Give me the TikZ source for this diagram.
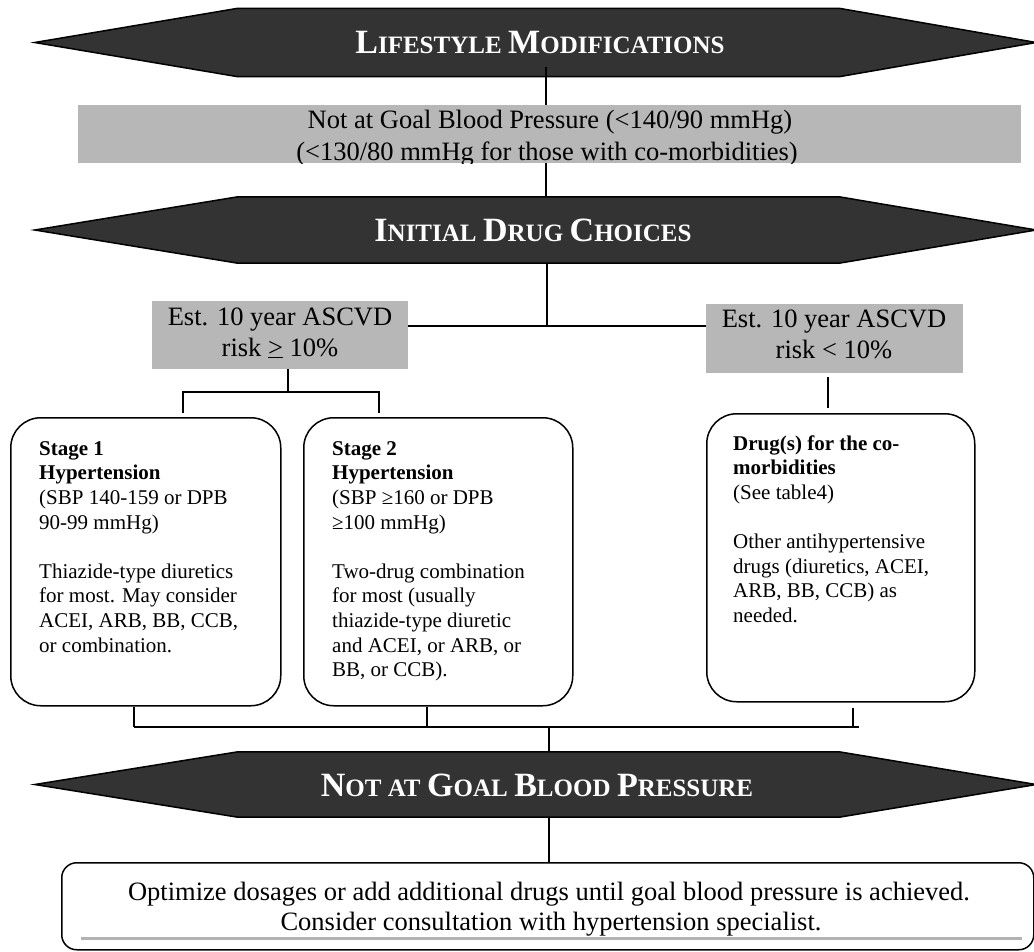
\documentclass[tikz,border=0pt]{standalone}
\usepackage{fontspec}
\setmainfont{Liberation Serif}
\usetikzlibrary{calc}
\definecolor{bannerfill}{RGB}{51,51,51}
\definecolor{boxgray}{RGB}{183,183,183}
\definecolor{linegray}{RGB}{178,178,178}
\newcommand\bigsc[2]{{\fontsize{34}{40}\selectfont #1}{\fontsize{25}{30}\selectfont #2}}
\begin{document}
\begin{tikzpicture}[x=1pt,y=-1pt,
  conn/.style={line width=1.3pt},
  busline/.style={line width=2pt},
  bannershape/.style={draw=black,line width=1.5pt,fill=bannerfill},
  bannerbox/.style={inner sep=0pt,minimum width=1001pt},
  bannertext/.style={text=white,font=\bfseries\fontsize{26}{30}\selectfont,inner sep=0pt,anchor=base},
  graybox/.style={fill=boxgray,draw=none,inner sep=0pt,anchor=north west},
  gtext/.style={font=\fontsize{26.5}{31}\selectfont,inner sep=0pt,anchor=base},
  stagebox/.style={draw,line width=1.5pt,rounded corners=30pt,inner sep=0pt,anchor=north west},
  stext/.style={font=\fontsize{21}{24.6}\selectfont,align=left,anchor=north west,inner sep=0pt},
  finalbox/.style={draw,line width=1.5pt,rounded corners=15pt,inner sep=0pt,anchor=north west},
]
\useasboundingbox (0,0) rectangle (1034,951);
\clip (0,0) rectangle (1034,951);

% ---------- banners ----------
\node[bannerbox,minimum height=68pt] (b1) at (535.5,42.5) {};
\node[bannerbox,minimum height=66pt] (b2) at (535.5,230) {};
\node[bannerbox,minimum height=65pt] (b3) at (535.5,784.5) {};
\foreach \b in {b1,b2,b3}{
  \draw[bannershape] (\b.west) -- ($(\b.north west)+(203,0)$) -- ($(\b.north east)+(-197,0)$)
    -- (\b.east) -- ($(\b.south east)+(-197,0)$) -- ($(\b.south west)+(203,0)$) -- cycle;
}
\node[bannertext] (b1t) at (540,53) {\bigsc{L}{IFESTYLE} \bigsc{M}{ODIFICATIONS}};
\node[bannertext] (b2t) at (533,241) {\bigsc{I}{NITIAL} \bigsc{D}{RUG} \bigsc{C}{HOICES}};
\node[bannertext] (b3t) at (537,796) {\bigsc{N}{OT AT} \bigsc{G}{OAL} \bigsc{B}{LOOD} \bigsc{P}{RESSURE}};

% ---------- first gray box ----------
\node[graybox,minimum width=943pt,minimum height=58pt] (g1) at (78,105) {};
\begin{scope}
  \clip (g1.north west) rectangle (g1.south east);
  \node[gtext] (g1a) at (550,128) {Not at Goal Blood Pressure (<140/90 mmHg)};
  \node[gtext] (g1b) at (547,160) {(<130/80 mmHg for those with co-morbidities)};
\end{scope}

% ---------- risk boxes ----------
\node[graybox,minimum width=256pt,minimum height=68pt] (lg) at (152,301) {};
\node[gtext] (lga) at (280,325) {Est. 10 year ASCVD};
\node[gtext] (lgb) at (280,356) {risk \underline{>} 10\%};
\node[graybox,minimum width=257pt,minimum height=69pt] (rg) at (706,304) {};
\node[gtext] (rga) at (834,327) {Est. 10 year ASCVD};
\node[gtext] (rgb) at (834,358) {risk < 10\%};

% ---------- treatment boxes ----------
\node[stagebox,minimum width=270pt,minimum height=288pt] (s1) at (10,417) {};
\node[stagebox,minimum width=269pt,minimum height=288pt] (s2) at (303,417) {};
\node[stagebox,minimum width=268pt,minimum height=288pt] (r) at (706,413) {};
\node[stext] (s1t) at (39,437.8) {\strut\textbf{Stage 1}\\ \textbf{Hypertension}\\ (SBP 140-159 or DPB\\ 90-99 mmHg)\\[24.6pt] Thiazide-type diuretics\\ for most. May consider\\ ACEI, ARB, BB, CCB,\\ or combination.};
\node[stext] (s2t) at (332,437.8) {\strut\textbf{Stage 2}\\ \textbf{Hypertension}\\ (SBP ≥160 or DPB\\ ≥100 mmHg)\\[24.6pt] Two-drug combination\\ for most (usually\\ thiazide-type diuretic\\ and ACEI, or ARB, or\\ BB, or CCB).};
\node[stext] (rt) at (733,432.8) {\strut\textbf{Drug(s) for the co-}\\ \textbf{morbidities}\\ (See table4)\\[24.6pt] Other antihypertensive\\ drugs (diuretics, ACEI,\\ ARB, BB, CCB) as\\ needed.};

% ---------- final box ----------
\node[finalbox,minimum width=972pt,minimum height=87pt] (fb) at (61,862) {};
\draw[linegray,line width=3pt] ($(fb.south west)+(20,-12)$) -- ($(fb.south east)+(-13,-12)$);
\node[gtext] (fba) at (549,900) {Optimize dosages or add additional drugs until goal blood pressure is achieved.};
\node[gtext] (fbb) at (551,930) {Consider consultation with hypertension specialist.};

% ---------- connectors ----------
\coordinate (sp1) at (546,0);
\coordinate (j1) at (547,326);
\coordinate (lgd) at (288,392);
\coordinate (t1) at (183,392);
\coordinate (t2) at (379,392);
\coordinate (rb) at (828,392);
\coordinate (busL) at (134,727);
\coordinate (bt2) at (427,727);
\coordinate (bt3) at (853,727);
\coordinate (busR) at (859,727);
\coordinate (sp3) at (549,727);

\draw[conn] ($(b1.south -| sp1)+(0,-10)$) -- (g1.north -| sp1);
\draw[conn] (g1.south -| sp1) -- (b2.north -| sp1);
\draw[conn] (b2.south -| j1) -- (j1);
\draw[conn] (lg.east |- j1) -- (rg.west |- j1);
\draw[conn] (lg.south -| lgd) -- (lgd);
\draw[conn] ($(s1.north -| t1)+(0,-4)$) -- (t1) -- (t2) -- ($(s2.north -| t2)+(0,-4)$);
\draw[conn] ($(rg.south -| rb)+(0,4)$) -- ($(r.north -| rb)+(0,-5)$);
\draw[conn] (s1.south -| busL) -- (busL);
\draw[conn] (s2.south -| bt2) -- (bt2);
\draw[conn] ($(r.south -| bt3)+(0,5)$) -- (bt3);
\draw[busline] (busL) -- (busR);
\draw[conn] (sp3) -- (b3.north -| sp3);
\draw[conn] (b3.south -| sp3) -- (fb.north -| sp3);
\end{tikzpicture}
\end{document}
